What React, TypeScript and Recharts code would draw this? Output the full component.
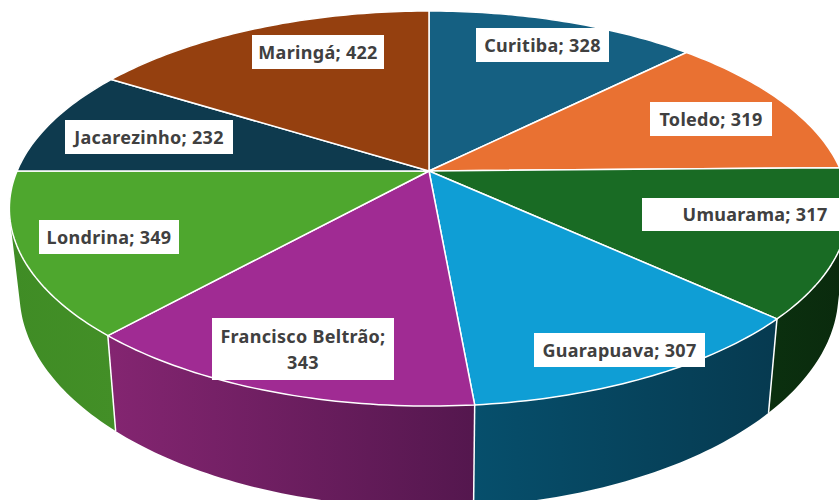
import React from 'react';
import { PieChart, Pie } from 'recharts';

const cities = ['Curitiba', 'Toledo', 'Umuarama', 'Guarapuava', 'Francisco Beltrão', 'Londrina', 'Jacarezinho', 'Maringá'];
const totals = [328, 319, 317, 307, 343, 349, 232, 422];

const topColors = ['#156082', '#E97132', '#196B24', '#0F9ED5', '#A02B93', '#4EA72E', '#0E3A4E', '#95400F'];
const sideLeftColors = ['#0e4057', '#9c4c21', '#0b300f', '#064f6c', '#842571', '#3f8c25', '#092734', '#642b0a'];
const sideRightColors = ['#0e4057', '#9c4c21', '#0a2a0d', '#063a50', '#54174e', '#438f27', '#092734', '#642b0a'];

// Excel placed these boxes by hand, so they don't follow the slice angles
const labelBoxes: Record<string, { x: number; y: number; w: number; h: number; textX?: number }> = {
  Curitiba: { x: 476, y: 28, w: 133, h: 34 },
  Toledo: { x: 650, y: 102, w: 122, h: 34 },
  Umuarama: { x: 642, y: 198, w: 197, h: 33, textX: 755 },
  Guarapuava: { x: 534, y: 333, w: 171, h: 34 },
  'Francisco Beltrão': { x: 212, y: 318, w: 182, h: 62 },
  Londrina: { x: 39, y: 220, w: 140, h: 34 },
  Jacarezinho: { x: 65, y: 120, w: 168, h: 34 },
  Maringá: { x: 252, y: 35, w: 132, h: 34 },
};

const tableData = cities.map((name, i) => ({
  name,
  value: totals[i],
  fill: topColors[i],
  sideLeft: sideLeftColors[i],
  sideRight: sideRightColors[i],
}));

const WIDTH = 839;
const HEIGHT = 500;
const CENTER_X = 429;
const CENTER_Y = 171;
const RADIUS = 412;

// perspective squash of the flat pie, top face and bottom face
const TILT = 0.19;
const TOP_RY = 190.4 / 412;
const BOTTOM_RX = 402 / 412;
const BOTTOM_RY = 207 / 412;
const DEPTH = 81;

const toRad = (deg: number) => (deg * Math.PI) / 180;

// angle is the recharts one: counter-clockwise from east
const project = (cx: number, cy: number, r: number, angle: number, bottom = false) => {
  const u = Math.cos(toRad(angle));
  const v = Math.sin(toRad(angle));
  const den = 1 + TILT * v;
  if (bottom) {
    return { x: cx + (r * BOTTOM_RX * u) / den, y: cy + DEPTH - (r * BOTTOM_RY * v) / den };
  }
  return { x: cx + (r * u) / den, y: cy - (r * TOP_RY * v) / den };
};

const sampleAngles = (start: number, end: number, step = 1) => {
  const n = Math.max(2, Math.ceil(Math.abs(end - start) / step));
  const out: number[] = [];
  for (let i = 0; i <= n; i++) out.push(start + ((end - start) * i) / n);
  return out;
};

type Pt = { x: number; y: number };

// all quads wound the same way, so nonzero fill gives a clean union without seams
const quadPath = (a: Pt, b: Pt, c: Pt, d: Pt) => {
  const pts = [a, b, c, d];
  let area = 0;
  pts.forEach((p, i) => {
    const q = pts[(i + 1) % 4];
    area += p.x * q.y - q.x * p.y;
  });
  const ordered = area < 0 ? [...pts].reverse() : pts;
  return 'M' + ordered.map((p) => `${p.x.toFixed(2)},${p.y.toFixed(2)}`).join(' L') + ' Z';
};

const TopSlice = (props: any) => {
  const { cx, cy, outerRadius, startAngle, endAngle, fill } = props;
  const pts = sampleAngles(startAngle, endAngle).map((a) => project(cx, cy, outerRadius, a));
  const d = `M${cx},${cy} ` + pts.map((p) => `L${p.x.toFixed(2)},${p.y.toFixed(2)}`).join(' ') + ' Z';
  return <path d={d} fill={fill} stroke="#fff" strokeWidth={1.5} strokeLinejoin="round" />;
};

const SideSlice = (props: any) => {
  const { cx, cy, outerRadius, startAngle, endAngle, payload } = props;
  const angles = sampleAngles(startAngle, endAngle);
  const top = angles.map((a) => project(cx, cy, outerRadius, a));
  const bot = angles.map((a) => project(cx, cy, outerRadius, a, true));
  const xs = [...top, ...bot].map((p) => p.x);
  const id = `side-${cities.indexOf(payload.name)}`;
  const d = angles
    .slice(1)
    .map((_, i) => quadPath(top[i], top[i + 1], bot[i + 1], bot[i]))
    .join(' ');

  return (
    <g>
      <defs>
        <linearGradient id={id} gradientUnits="userSpaceOnUse" x1={Math.min(...xs)} y1={0} x2={Math.max(...xs)} y2={0}>
          <stop offset="0%" stopColor={payload.sideLeft} />
          <stop offset="100%" stopColor={payload.sideRight} />
        </linearGradient>
      </defs>
      <path d={d} fill={`url(#${id})`} />
      <line x1={top[0].x} y1={top[0].y} x2={bot[0].x} y2={bot[0].y} stroke="#fff" strokeWidth={1.5} />
    </g>
  );
};

const SliceLabel = (props: any) => {
  const name: string = props.payload?.name ?? props.name;
  const value = props.payload?.value ?? props.value;
  const box = labelBoxes[name];
  const textX = box.textX ?? box.x + box.w / 2;
  const twoLines = name === 'Francisco Beltrão';
  const textStyle = { fontFamily: '"Noto Sans", sans-serif', fontSize: 18, fontWeight: 700, letterSpacing: 0.3, fill: '#404040' };

  return (
    <g>
      <rect x={box.x} y={box.y} width={box.w} height={box.h} fill="#fff" />
      {twoLines ? (
        <>
          <text x={textX} y={box.y + 25} textAnchor="middle" style={textStyle}>{`${name};`}</text>
          <text x={textX} y={box.y + 51} textAnchor="middle" style={textStyle}>{value}</text>
        </>
      ) : (
        <text x={textX} y={box.y + box.h / 2 + 6.5} textAnchor="middle" style={textStyle}>{`${name}; ${value}`}</text>
      )}
    </g>
  );
};

export default function App() {
  return (
    <div style={{ position: 'fixed', left: 0, top: 0, width: WIDTH, height: HEIGHT, background: '#fff', overflow: 'hidden' }}>
      <PieChart width={WIDTH} height={HEIGHT} margin={{ top: 0, right: 0, bottom: 0, left: 0 }}>
        <Pie
          data={tableData}
          dataKey="value"
          nameKey="name"
          cx={CENTER_X}
          cy={CENTER_Y}
          outerRadius={RADIUS}
          startAngle={90}
          endAngle={-270}
          isAnimationActive={false}
          shape={SideSlice}
          label={false}
          labelLine={false}
        />
        <Pie
          data={tableData}
          dataKey="value"
          nameKey="name"
          cx={CENTER_X}
          cy={CENTER_Y}
          outerRadius={RADIUS}
          startAngle={90}
          endAngle={-270}
          isAnimationActive={false}
          shape={TopSlice}
          label={SliceLabel}
          labelLine={false}
        />
      </PieChart>
    </div>
  );
}
